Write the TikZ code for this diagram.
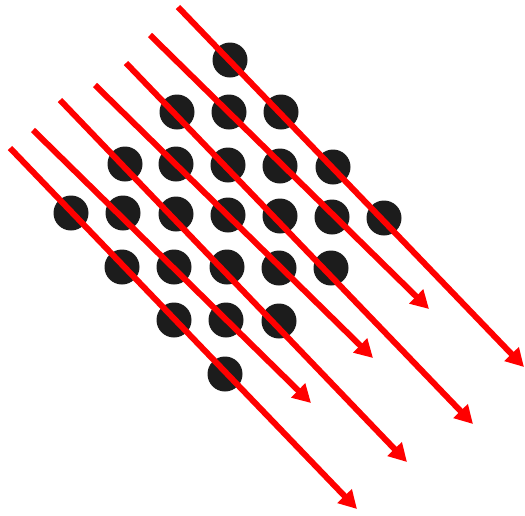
\documentclass[tikz,border=0pt]{standalone}
\usetikzlibrary{arrows.meta}
\definecolor{dotcol}{HTML}{1C1C1C}
\definecolor{raycol}{HTML}{FF0000}
\begin{document}
\begin{tikzpicture}[x=1pt,y=-1pt,
  atom/.style={circle,fill=dotcol,minimum size=35pt,inner sep=0pt},
  ray/.style={draw=raycol,line width=6pt,-{Triangle[length=18pt,width=19pt]}}]
\useasboundingbox (0,0) rectangle (525,515);
% atoms
\node[atom] (a11) at (230,60) {};
\node[atom] (a21) at (177,112) {};
\node[atom] (a22) at (229,112) {};
\node[atom] (a23) at (281,112) {};
\node[atom] (a31) at (125,164) {};
\node[atom] (a32) at (176,164) {};
\node[atom] (a33) at (228,165) {};
\node[atom] (a34) at (280,166) {};
\node[atom] (a35) at (333,167) {};
\node[atom] (a41) at (71,213) {};
\node[atom] (a42) at (123,213) {};
\node[atom] (a43) at (176,214) {};
\node[atom] (a44) at (228,215) {};
\node[atom] (a45) at (280,216) {};
\node[atom] (a46) at (332,217) {};
\node[atom] (a47) at (384,218) {};
\node[atom] (a51) at (122,267) {};
\node[atom] (a52) at (174,267) {};
\node[atom] (a53) at (227,267) {};
\node[atom] (a54) at (279,268) {};
\node[atom] (a55) at (331,268) {};
\node[atom] (a61) at (174,320) {};
\node[atom] (a62) at (226,320) {};
\node[atom] (a63) at (279,321) {};
\node[atom] (a71) at (225,374) {};
% rays
\coordinate (s1) at (178,7);   \coordinate (e1) at (524,367);
\coordinate (s2) at (150,35);  \coordinate (e2) at (429,309);
\coordinate (s3) at (126,63);  \coordinate (e3) at (473,424);
\coordinate (s4) at (95,85);   \coordinate (e4) at (373,358);
\coordinate (s5) at (60,100);  \coordinate (e5) at (407,462);
\coordinate (s6) at (33,130);  \coordinate (e6) at (311,403);
\coordinate (s7) at (10,148);  \coordinate (e7) at (357,509);
\foreach \i in {1,...,7} { \draw[ray] (s\i) -- (e\i); }
\end{tikzpicture}
\end{document}
